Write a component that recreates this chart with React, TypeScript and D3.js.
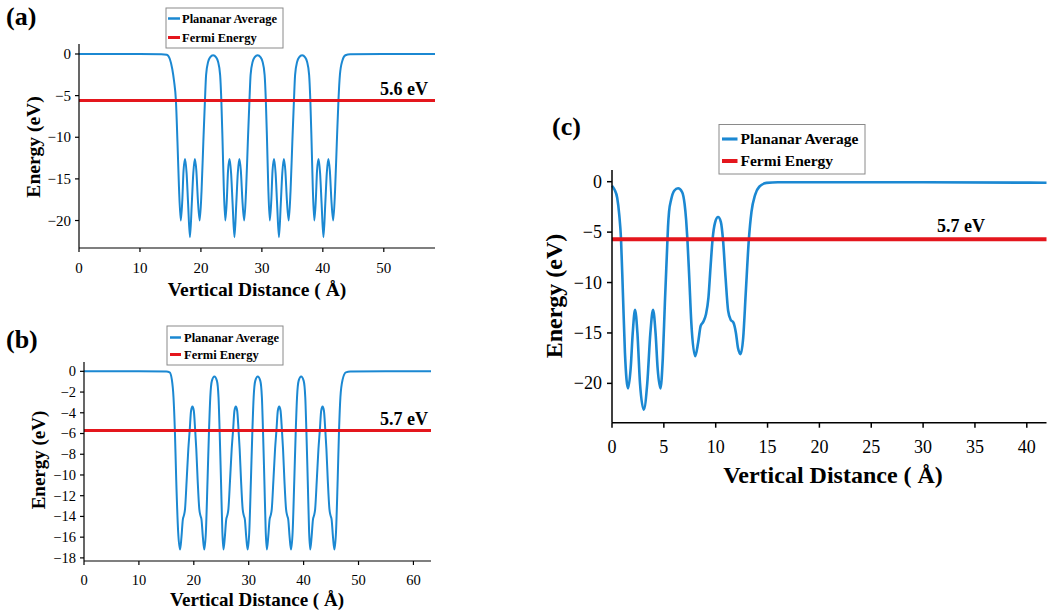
import React from 'react';
import * as d3 from 'd3';

// ---------- Panel (a) data ----------
const distanceA = [
  0, 5, 10, 13.5, 14.4, 14.9, 15.3, 15.6, 15.9, 16.15, 16.4,
  16.7, 16.95, 17.15, 17.4, 17.65, 17.9, 18.2, 18.5, 18.75, 19.0, 19.25, 19.5, 19.8, 20.1, 20.4, 20.66, 20.85, 21.2, 21.5, 22.0, 22.5, 22.8, 23.15, 23.35, 23.55, 23.75,
  24.0, 24.25, 24.45, 24.7, 24.95, 25.2, 25.5, 25.8, 26.05, 26.3, 26.55, 26.8, 27.1, 27.4, 27.7, 27.96, 28.15, 28.5, 28.8, 29.3, 29.8, 30.1, 30.45, 30.65, 30.85, 31.05,
  31.3, 31.55, 31.75, 32.0, 32.25, 32.5, 32.8, 33.1, 33.35, 33.6, 33.85, 34.1, 34.4, 34.7, 35.0, 35.26, 35.45, 35.8, 36.1, 36.6, 37.1, 37.4, 37.75, 37.95, 38.15, 38.35,
  38.6, 38.85, 39.05, 39.3, 39.55, 39.8, 40.1, 40.4, 40.65, 40.9, 41.15, 41.4, 41.7, 42.0, 42.3, 42.56, 42.8, 43.2, 43.7, 44.5, 50, 58.4,
];
const energyA = [
  0, 0, 0, -0.02, -0.1, -0.6, -1.8, -3.3, -5.6, -10.5, -16,
  -20, -17.5, -14, -12.6, -14.3, -18, -22, -18, -14.3, -12.6, -14, -17.5, -20, -16.5, -10.5, -5.6, -2.5, -0.9, -0.4, -0.15, -0.4, -0.9, -2.5, -5.6, -10.5, -16,
  -20, -17.5, -14, -12.6, -14.3, -18, -22, -18, -14.3, -12.6, -14, -17.5, -20, -16.5, -10.5, -5.6, -2.5, -0.9, -0.4, -0.15, -0.4, -0.9, -2.5, -5.6, -10.5, -16,
  -20, -17.5, -14, -12.6, -14.3, -18, -22, -18, -14.3, -12.6, -14, -17.5, -20, -16.5, -10.5, -5.6, -2.5, -0.9, -0.4, -0.15, -0.4, -0.9, -2.5, -5.6, -10.5, -16,
  -20, -17.5, -14, -12.6, -14.3, -18, -22, -18, -14.3, -12.6, -14, -17.5, -20, -16.5, -10.5, -5.6, -2.5, -0.8, -0.15, -0.02, 0, 0,
];

// ---------- Panel (b) data ----------
const distanceB = [
  0, 10, 15, 15.6, 16.0, 16.3, 16.55, 16.8, 17.15,
  17.5, 17.75, 18.0, 18.2, 18.4, 18.7, 19.0, 19.25, 19.5, 19.75, 20.0, 20.25, 20.45, 20.7, 21.0, 21.2, 21.4, 21.65, 21.9, 22.2, 22.5, 22.77, 23.0, 23.3, 23.75, 24.2, 24.5, 24.7, 24.95, 25.2,
  25.4, 25.65, 25.9, 26.1, 26.3, 26.6, 26.9, 27.15, 27.4, 27.65, 27.9, 28.15, 28.35, 28.6, 28.9, 29.1, 29.3, 29.55, 29.8, 30.1, 30.4, 30.67, 30.9, 31.2, 31.65, 32.1, 32.4, 32.6, 32.85, 33.1,
  33.3, 33.55, 33.8, 34.0, 34.2, 34.5, 34.8, 35.05, 35.3, 35.55, 35.8, 36.05, 36.25, 36.5, 36.8, 37.0, 37.2, 37.45, 37.7, 38.0, 38.3, 38.57, 38.8, 39.1, 39.55, 40.0, 40.3, 40.5, 40.75, 41.0,
  41.2, 41.45, 41.7, 41.9, 42.1, 42.4, 42.7, 42.95, 43.2, 43.45, 43.7, 43.95, 44.15, 44.4, 44.7, 44.9, 45.1, 45.35, 45.6, 45.9, 46.2, 46.45, 46.7, 47.1, 47.7, 48.5, 55, 63.2,
];
const energyB = [
  0, 0, -0.02, -0.1, -0.8, -2.5, -5.7, -10.5, -15.5,
  -17.2, -16, -14.3, -13.9, -13.3, -10.5, -7.5, -5.7, -3.8, -3.4, -3.8, -5.7, -7.5, -10.5, -13.3, -13.9, -14.3, -16, -17.2, -15.5, -10.5, -5.7, -2.5, -0.9, -0.5, -0.9, -2.5, -5.7, -10.5, -15.5,
  -17.2, -16, -14.3, -13.9, -13.3, -10.5, -7.5, -5.7, -3.8, -3.4, -3.8, -5.7, -7.5, -10.5, -13.3, -13.9, -14.3, -16, -17.2, -15.5, -10.5, -5.7, -2.5, -0.9, -0.5, -0.9, -2.5, -5.7, -10.5, -15.5,
  -17.2, -16, -14.3, -13.9, -13.3, -10.5, -7.5, -5.7, -3.8, -3.4, -3.8, -5.7, -7.5, -10.5, -13.3, -13.9, -14.3, -16, -17.2, -15.5, -10.5, -5.7, -2.5, -0.9, -0.5, -0.9, -2.5, -5.7, -10.5, -15.5,
  -17.2, -16, -14.3, -13.9, -13.3, -10.5, -7.5, -5.7, -3.8, -3.4, -3.8, -5.7, -7.5, -10.5, -13.3, -13.9, -14.3, -16, -17.2, -15.5, -10.5, -5.7, -2.5, -0.8, -0.1, -0.02, 0, 0,
];

// ---------- Panel (c) data ----------
const distanceC = [
  0, 0.25, 0.5, 0.7, 0.87, 1.05, 1.25, 1.55, 1.8, 2.0, 2.22, 2.45, 2.7, 3.06, 3.4, 3.7, 3.96, 4.2, 4.4, 4.67,
  4.9, 5.1, 5.3, 5.4, 5.5, 5.7, 6.0, 6.37, 6.75, 7.0, 7.15, 7.27, 7.45, 7.65, 8.02,
  8.3, 8.55, 8.8, 9.05, 9.3, 9.5, 9.7, 9.95, 10.23, 10.5, 10.7, 10.95, 11.2, 11.45, 11.7, 11.95, 12.15, 12.4,
  12.65, 12.9, 13.2, 13.45, 13.8, 14.2, 14.9, 16, 20, 30, 41.9,
];
const energyC = [
  -0.4, -0.8, -1.6, -3.3, -5.7, -11, -17, -20.5, -18.5, -15, -12.7, -15, -20, -22.6, -20, -15, -12.7, -15, -18.5, -20.5,
  -17.5, -12, -7, -4.5, -3.0, -1.8, -0.9, -0.65, -1.0, -2.2, -3.8, -5.7, -9.5, -14, -17.3,
  -16, -14.3, -13.9, -13.2, -11.5, -8.5, -5.7, -4.0, -3.5, -4.0, -5.7, -9.5, -12.8, -13.7, -13.95, -15, -16.5, -17.1,
  -15.5, -11, -5.7, -3.0, -1.3, -0.5, -0.12, -0.05, -0.05, -0.06, -0.1,
];

// ---------- ticks & labels ----------
const ticksXA = [0, 10, 20, 30, 40, 50];
const ticksYA = [0, -5, -10, -15, -20];
const ticksXB = [0, 10, 20, 30, 40, 50, 60];
const ticksYB = [0, -2, -4, -6, -8, -10, -12, -14, -16, -18];
const ticksXC = [0, 5, 10, 15, 20, 25, 30, 35, 40];
const ticksYC = [0, -5, -10, -15, -20];

const fermiA = -5.6;
const fermiB = -5.7;
const fermiC = -5.7;
const fermiLabels = ['5.6 eV', '5.7 eV', '5.7 eV'];
const panelLetters = ['(a)', '(b)', '(c)'];
const legendLabels = ['Plananar Average', 'Fermi Energy'];
const xTitle = 'Vertical Distance ( Å)';
const yTitle = 'Energy (eV)';

const BLUE = '#1b88d2';
const RED = '#e4161d';
const FONT = '"Liberation Serif", "Times New Roman", serif';

const fmt = (v: number) => (v < 0 ? '\u2212' + Math.abs(v) : String(v));

type PanelCfg = {
  xs: number[];
  ys: number[];
  xDomain: [number, number];
  yDomain: [number, number];
  left: number;
  right: number;
  top: number;
  bottom: number;
  ticksX: number[];
  ticksY: number[];
  fermi: number;
  fermiLabel: string;
  fermiLabelX: number;
  fermiLabelY: number;
  fermiFont: number;
  letter: string;
  letterX: number;
  letterY: number;
  letterFont: number;
  tickFont: number;
  tickLen: number;
  yLabelGap: number;
  xLabelDy: number;
  titleFont: number;
  xTitleX: number;
  xTitleY: number;
  yTitleX: number;
  yTitleY: number;
  legend: { x: number; y: number; w: number; h: number; row1: number; row2: number; lx1: number; lx2: number; tx: number; font: number };
  blueWidth: number;
  redWidth: number;
  axisWidth: number;
};

function Panel({ c }: { c: PanelCfg }) {
  const x = d3.scaleLinear().domain(c.xDomain).range([c.left, c.right]);
  const y = d3.scaleLinear().domain(c.yDomain).range([c.bottom, c.top]);
  const pts: [number, number][] = c.xs.map((d, i) => [d, c.ys[i]]);
  const line = d3
    .line<[number, number]>()
    .x((d) => x(d[0]))
    .y((d) => y(d[1]))
    .curve(d3.curveMonotoneX);
  const L = c.legend;
  return (
    <g fontFamily={FONT}>
      <text x={c.letterX} y={c.letterY} fontSize={c.letterFont} fontWeight="bold">
        {c.letter}
      </text>
      {/* data */}
      <path d={line(pts) || ''} fill="none" stroke={BLUE} strokeWidth={c.blueWidth} strokeLinejoin="round" />
      <line x1={x(c.xDomain[0])} x2={x(c.xDomain[1])} y1={y(c.fermi)} y2={y(c.fermi)} stroke={RED} strokeWidth={c.redWidth} />
      <text x={c.fermiLabelX} y={c.fermiLabelY} fontSize={c.fermiFont} fontWeight="bold" textAnchor="end">
        {c.fermiLabel}
      </text>
      {/* axes */}
      <line x1={c.left} x2={c.left} y1={c.top} y2={c.bottom} stroke="#000" strokeWidth={c.axisWidth} />
      <line x1={c.left} x2={c.right} y1={c.bottom} y2={c.bottom} stroke="#000" strokeWidth={c.axisWidth} />
      {c.ticksX.map((t) => (
        <g key={'x' + t}>
          <line x1={x(t)} x2={x(t)} y1={c.bottom} y2={c.bottom + c.tickLen} stroke="#000" strokeWidth={c.axisWidth} />
          <text x={x(t)} y={c.bottom + c.xLabelDy} fontSize={c.tickFont} textAnchor="middle">
            {fmt(t)}
          </text>
        </g>
      ))}
      {c.ticksY.map((t) => (
        <g key={'y' + t}>
          <line x1={c.left} x2={c.left - c.tickLen} y1={y(t)} y2={y(t)} stroke="#000" strokeWidth={c.axisWidth} />
          <text x={c.left - c.yLabelGap} y={y(t)} dy="0.34em" fontSize={c.tickFont} textAnchor="end">
            {fmt(t)}
          </text>
        </g>
      ))}
      <text x={c.xTitleX} y={c.xTitleY} fontSize={c.titleFont} fontWeight="bold" textAnchor="middle">
        {xTitle}
      </text>
      <text
        transform={`translate(${c.yTitleX},${c.yTitleY}) rotate(-90)`}
        fontSize={c.titleFont}
        fontWeight="bold"
        textAnchor="middle"
      >
        {yTitle}
      </text>
      {/* legend */}
      <rect x={L.x} y={L.y} width={L.w} height={L.h} fill="#fff" stroke="#8a8a8a" strokeWidth={1} />
      <line x1={L.lx1} x2={L.lx2} y1={L.row1} y2={L.row1} stroke={BLUE} strokeWidth={c.blueWidth + 0.5} />
      <line x1={L.lx1} x2={L.lx2} y1={L.row2} y2={L.row2} stroke={RED} strokeWidth={c.redWidth} />
      <text x={L.tx} y={L.row1} dy="0.34em" fontSize={L.font} fontWeight="bold">
        {legendLabels[0]}
      </text>
      <text x={L.tx} y={L.row2} dy="0.34em" fontSize={L.font} fontWeight="bold">
        {legendLabels[1]}
      </text>
    </g>
  );
}

const panelA: PanelCfg = {
  xs: distanceA, ys: energyA,
  xDomain: [0, 58.4], yDomain: [-23.3, 1.2],
  left: 79, right: 435, top: 44, bottom: 248,
  ticksX: ticksXA, ticksY: ticksYA,
  fermi: fermiA, fermiLabel: fermiLabels[0], fermiLabelX: 428, fermiLabelY: 95, fermiFont: 18,
  letter: panelLetters[0], letterX: 6, letterY: 25, letterFont: 26,
  tickFont: 15, tickLen: 4, yLabelGap: 8, xLabelDy: 25,
  titleFont: 19.5, xTitleX: 257, xTitleY: 296, yTitleX: 40, yTitleY: 147,
  legend: { x: 166, y: 8, w: 117, h: 40, row1: 18.5, row2: 37.5, lx1: 168, lx2: 180, tx: 182, font: 12.5 },
  blueWidth: 2, redWidth: 3, axisWidth: 1.2,
};

const panelB: PanelCfg = {
  xs: distanceB, ys: energyB,
  xDomain: [0, 63.2], yDomain: [-18.3, 0.9],
  left: 84, right: 431, top: 362, bottom: 561,
  ticksX: ticksXB, ticksY: ticksYB,
  fermi: fermiB, fermiLabel: fermiLabels[1], fermiLabelX: 428, fermiLabelY: 425, fermiFont: 18,
  letter: panelLetters[1], letterX: 6, letterY: 348, letterFont: 26,
  tickFont: 14.5, tickLen: 4, yLabelGap: 8, xLabelDy: 24,
  titleFont: 19, xTitleX: 257, xTitleY: 606, yTitleX: 45, yTitleY: 460,
  legend: { x: 167, y: 326, w: 116, h: 39, row1: 337.5, row2: 354.5, lx1: 170, lx2: 181, tx: 184, font: 12.5 },
  blueWidth: 2, redWidth: 3, axisWidth: 1.2,
};

const panelC: PanelCfg = {
  xs: distanceC, ys: energyC,
  xDomain: [0, 41.9], yDomain: [-23.9, 1.16],
  left: 612, right: 1046.5, top: 170, bottom: 422.7,
  ticksX: ticksXC, ticksY: ticksYC,
  fermi: fermiC, fermiLabel: fermiLabels[2], fermiLabelX: 985, fermiLabelY: 232, fermiFont: 18,
  letter: panelLetters[2], letterX: 552, letterY: 135, letterFont: 26,
  tickFont: 18, tickLen: 5, yLabelGap: 10, xLabelDy: 30,
  titleFont: 24, xTitleX: 833, xTitleY: 483, yTitleX: 562, yTitleY: 296,
  legend: { x: 719, y: 124.5, w: 146, h: 49.5, row1: 139, row2: 161, lx1: 722, lx2: 737.5, tx: 740.5, font: 15.5 },
  blueWidth: 2.6, redWidth: 4, axisWidth: 1.5,
};

export default function App() {
  return (
    <svg
      width={1047}
      height={616}
      viewBox="0 0 1047 616"
      style={{ position: 'absolute', left: 0, top: 0, background: '#fff' }}
    >
      <rect x={0} y={0} width={1047} height={616} fill="#fff" />
      <Panel c={panelA} />
      <Panel c={panelB} />
      <Panel c={panelC} />
    </svg>
  );
}
